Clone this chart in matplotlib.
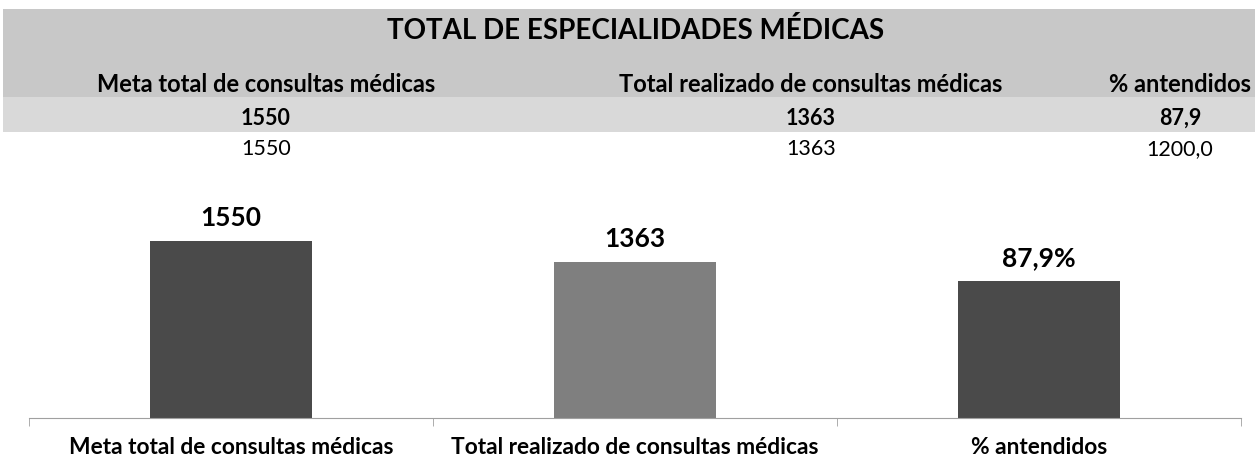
import matplotlib.pyplot as plt
from matplotlib.patches import Rectangle

# dados
categorias = ['Meta total de consultas médicas', 'Total realizado de consultas médicas', '% antendidos']
valores = [1550, 1363, 1200.0]
rotulos = ['1550', '1363', '87,9%']
cabecalho_valores = ['1550', '1363', '87,9']
linha_bruta = ['1550', '1363', '1200,0']
titulo = 'TOTAL DE ESPECIALIDADES MÉDICAS'

cores = ['#4a4a4a', '#7f7f7f', '#4a4a4a']

W, H = 1255, 459
plt.rcParams['font.family'] = ['Lato', 'DejaVu Sans']

fig = plt.figure(figsize=(W / 100, H / 100), dpi=100)

def px(x, y):
    return x / W, 1 - y / H

# faixas cinzas do cabecalho
fig.patches.append(Rectangle(px(3, 97), (W - 3) / W, 88 / H, transform=fig.transFigure,
                             facecolor='#c8c8c8', edgecolor='none', zorder=0))
fig.patches.append(Rectangle(px(3, 132), (W - 3) / W, 35 / H, transform=fig.transFigure,
                             facecolor='#d9d9d9', edgecolor='none', zorder=0))

fig.text(*px(636, 39), titulo, ha='center', va='baseline', fontsize=20, fontweight='bold')

col_x = [266, 811, 1180]
for x, lab in zip(col_x, categorias):
    fig.text(*px(x, 92), lab, ha='center', va='baseline', fontsize=17, fontweight='bold')

for x, v in zip(col_x, cabecalho_valores):
    fig.text(*px(x, 125), v, ha='center', va='baseline', fontsize=15.5, fontweight='bold')
for x, v in zip(col_x, linha_bruta):
    fig.text(*px(x, 155), v, ha='center', va='baseline', fontsize=15.5)

# grafico de barras
ax = fig.add_axes([29 / W, 1 - 418 / H, (1241 - 29) / W, (418 - 185) / H])
pos = range(len(valores))
bars = ax.bar(pos, valores, width=0.4, color=cores)
ax.set_xlim(-0.5, len(valores) - 0.5)
ax.set_ylim(0, 2040)

for b, r in zip(bars, rotulos):
    ax.annotate(r, (b.get_x() + b.get_width() / 2, b.get_height()), xytext=(0, 11),
                textcoords='offset points', ha='center', va='baseline',
                fontsize=19, fontweight='bold')

for s in ['top', 'right', 'left']:
    ax.spines[s].set_visible(False)
ax.spines['bottom'].set_color('#a0a0a0')
ax.set_yticks([])
ax.set_xticks(list(pos))
ax.set_xticklabels(categorias, fontsize=16.4, fontweight='bold')
ax.tick_params(axis='x', which='major', length=0, pad=14)
ax.set_xticks([p - 0.5 for p in range(len(valores) + 1)], minor=True)
ax.tick_params(axis='x', which='minor', length=6, color='#a0a0a0')

fig.savefig('out.png', dpi=100)
